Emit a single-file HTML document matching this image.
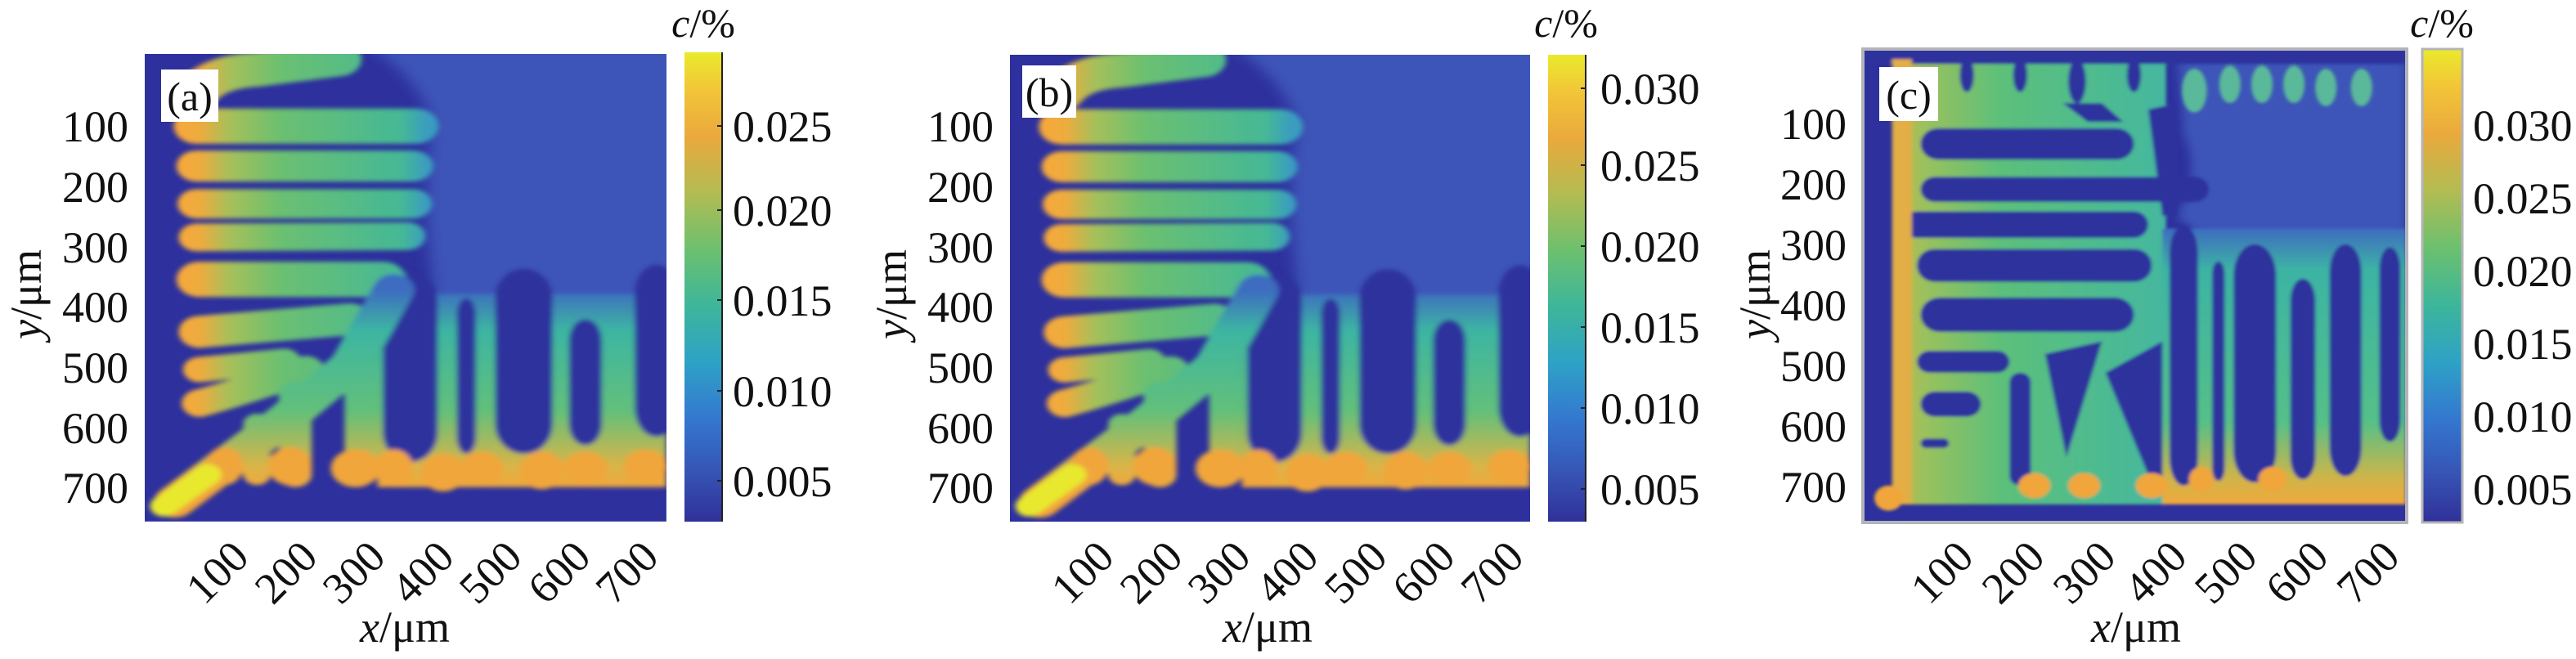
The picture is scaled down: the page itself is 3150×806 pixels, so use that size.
<!DOCTYPE html>
<html><head><meta charset="utf-8"><style>
html,body{margin:0;padding:0;background:#fff;}
svg{display:block;font-family:"Liberation Serif","Times New Roman",serif;}
text{font-family:"Liberation Serif","Times New Roman",serif;fill:#111;}
</style></head><body>
<svg width="3150" height="806" viewBox="0 0 3150 806" xmlns="http://www.w3.org/2000/svg">
<defs>
<linearGradient id="cb" x1="0" y1="0" x2="0" y2="1">
<stop offset="0" stop-color="#eaea2c"/><stop offset="0.08" stop-color="#f2c538"/><stop offset="0.18" stop-color="#eaa93d"/>
<stop offset="0.3" stop-color="#b2bc52"/><stop offset="0.42" stop-color="#6cc06f"/><stop offset="0.54" stop-color="#3db69a"/>
<stop offset="0.66" stop-color="#2ea2c6"/><stop offset="0.78" stop-color="#3478d0"/><stop offset="0.9" stop-color="#3653b4"/>
<stop offset="1" stop-color="#303098"/></linearGradient>
<linearGradient id="gh" gradientUnits="userSpaceOnUse" x1="330" y1="0" x2="780" y2="0">
<stop offset="0" stop-color="#f6a93a"/><stop offset="0.08" stop-color="#eeab3e"/><stop offset="0.2" stop-color="#a6c05a"/>
<stop offset="0.4" stop-color="#6cc070"/><stop offset="0.9" stop-color="#45b896"/><stop offset="1" stop-color="#3a9cc0"/></linearGradient>
<linearGradient id="gv" gradientUnits="userSpaceOnUse" x1="0" y1="690" x2="0" y2="1170">
<stop offset="0" stop-color="#3c6cc0"/><stop offset="0.2" stop-color="#3cb5a2"/><stop offset="0.6" stop-color="#62c07a"/>
<stop offset="0.88" stop-color="#dcb447"/><stop offset="1" stop-color="#f3a43a"/></linearGradient>
<linearGradient id="ch" gradientUnits="userSpaceOnUse" x1="90" y1="0" x2="880" y2="0">
<stop offset="0" stop-color="#d8b048"/><stop offset="0.12" stop-color="#9cc15c"/><stop offset="0.4" stop-color="#5cc07a"/><stop offset="1" stop-color="#44b7a0"/></linearGradient>
<linearGradient id="cv" gradientUnits="userSpaceOnUse" x1="0" y1="600" x2="0" y2="1480">
<stop offset="0" stop-color="#3c6cc0"/><stop offset="0.15" stop-color="#3cb4a4"/><stop offset="0.7" stop-color="#55c088"/>
<stop offset="0.9" stop-color="#cdb54a"/><stop offset="1" stop-color="#f0a83c"/></linearGradient>
<filter id="bl" x="-5%" y="-5%" width="110%" height="110%"><feGaussianBlur stdDeviation="5"/></filter>
<filter id="bb" x="-10%" y="-10%" width="120%" height="120%"><feGaussianBlur stdDeviation="14"/></filter>
<clipPath id="ca"><rect x="265" y="128" width="953" height="1114"/></clipPath>
<clipPath id="cc"><rect x="20" y="30" width="1525" height="1505"/></clipPath>

<g id="pa" clip-path="url(#ca)">
<rect x="265" y="128" width="953" height="1114" fill="#2d309d"/>
<path d="M660,100 H1260 V820 H790 V660 Q770,450 790,300 Q770,180 660,100Z" fill="#3c55b8" filter="url(#bb)"/>
<g filter="url(#bl)">
<rect x="690" y="700" width="528" height="460" fill="url(#gv)"/>
<g fill="#2d309d">
<rect x="700" y="650" width="100" height="450" rx="50" ry="70"/>
<rect x="835" y="710" width="35" height="370" rx="17" ry="40"/>
<rect x="905" y="640" width="105" height="440" rx="52" ry="70"/>
<rect x="1040" y="760" width="60" height="300" rx="30" ry="50"/>
<rect x="1160" y="630" width="80" height="410" rx="40" ry="70"/>
</g>
<g fill="none" stroke="url(#gh)" stroke-linecap="round">
<path d="M360,220 Q390,170 470,165 L620,140" stroke-width="82"/>
<path d="M360,300 L760,300" stroke-width="84"/>
<path d="M360,395 L755,395" stroke-width="74"/>
<path d="M360,485 L755,485" stroke-width="70"/>
<path d="M360,565 L745,562" stroke-width="66"/>
<path d="M365,665 L700,665" stroke-width="84"/>
<path d="M365,790 Q500,775 640,760" stroke-width="76"/>
<path d="M365,880 L520,860" stroke-width="60"/>
<path d="M365,960 Q450,930 560,880" stroke-width="65"/>
</g>
<g fill="none" stroke="url(#gv)" stroke-linecap="round">
<path d="M320,1195 L520,1000 L640,870 L720,690" stroke-width="75"/>
<path d="M470,1010 L470,1130" stroke-width="50"/>
<path d="M540,940 L540,1130" stroke-width="60"/>
<path d="M660,860 L660,1120" stroke-width="60"/>
</g>
<g fill="#f0a63a">
<ellipse cx="410" cy="1110" rx="35" ry="45"/><ellipse cx="530" cy="1110" rx="40" ry="45"/>
<ellipse cx="650" cy="1115" rx="45" ry="45"/><ellipse cx="720" cy="1115" rx="35" ry="45"/>
<ellipse cx="810" cy="1125" rx="40" ry="45"/><ellipse cx="880" cy="1115" rx="40" ry="40"/>
<ellipse cx="990" cy="1120" rx="40" ry="45"/><ellipse cx="1070" cy="1115" rx="40" ry="40"/>
<ellipse cx="1180" cy="1110" rx="40" ry="40"/>
</g>
<path d="M300,1205 L380,1130" stroke="#e8e82e" stroke-width="50" stroke-linecap="round"/>
</g>
</g>

<g id="pc" clip-path="url(#cc)">
<rect x="20" y="30" width="1525" height="1505" fill="#2d309d"/>
<path d="M900,30 H1545 V700 Q1450,620 1400,690 Q1300,610 1250,760 Q1150,640 1050,710 Q960,620 900,560 Q970,420 920,300Z" fill="#3c55b8" filter="url(#bb)"/>
<g filter="url(#bl)">
<rect x="100" y="70" width="770" height="1410" fill="url(#ch)"/>
<rect x="860" y="600" width="685" height="880" fill="url(#cv)"/>
<g fill="#2d309d">
<rect x="180" y="280" width="600" height="100" rx="50"/>
<rect x="180" y="435" width="810" height="80" rx="40"/>
<rect x="130" y="545" width="690" height="85" rx="42"/>
<rect x="170" y="665" width="660" height="105" rx="50"/>
<rect x="180" y="820" width="600" height="110" rx="55"/>
<rect x="170" y="990" width="260" height="70" rx="35"/>
<rect x="180" y="1120" width="170" height="80" rx="40"/>
<rect x="180" y="1270" width="80" height="30" rx="15"/>
<rect x="430" y="1060" width="60" height="360" rx="30"/>
<polygon points="530,1000 690,960 590,1330"/>
<polygon points="700,1060 860,960 860,1440 840,1440"/>
<rect x="880" y="590" width="80" height="830" rx="40" ry="90"/>
<rect x="1000" y="705" width="35" height="700" rx="17" ry="40"/>
<rect x="1060" y="650" width="120" height="760" rx="60" ry="100"/>
<rect x="1220" y="760" width="70" height="640" rx="35" ry="70"/>
<rect x="1330" y="650" width="90" height="740" rx="45" ry="90"/>
<rect x="1470" y="660" width="60" height="620" rx="30" ry="70"/>
<rect x="20" y="30" width="1525" height="45"/>
<ellipse cx="310" cy="110" rx="20" ry="55"/><ellipse cx="460" cy="110" rx="20" ry="55"/>
<ellipse cx="620" cy="130" rx="25" ry="70"/><ellipse cx="780" cy="110" rx="20" ry="55"/>
<polygon points="580,200 690,200 750,260 650,260"/>
<polygon points="820,220 900,200 900,560 860,560"/>
</g>
<g fill="#5ab99a">
<ellipse cx="950" cy="160" rx="35" ry="70"/><ellipse cx="1050" cy="140" rx="30" ry="60"/>
<ellipse cx="1140" cy="140" rx="30" ry="60"/><ellipse cx="1230" cy="140" rx="30" ry="60"/>
<ellipse cx="1320" cy="150" rx="30" ry="60"/><ellipse cx="1420" cy="150" rx="30" ry="60"/>
</g>
<rect x="100" y="60" width="55" height="1420" fill="#e2ae45"/>
<g fill="#f0a63a">
<ellipse cx="90" cy="1460" rx="40" ry="40"/><ellipse cx="500" cy="1420" rx="45" ry="40"/>
<ellipse cx="640" cy="1420" rx="45" ry="40"/><ellipse cx="830" cy="1420" rx="45" ry="40"/>
<ellipse cx="970" cy="1400" rx="35" ry="40"/><ellipse cx="1170" cy="1400" rx="40" ry="40"/>
</g>
</g>
</g>
</defs>

<!-- Panel a -->
<use href="#pa" transform="translate(177,66) scale(0.6694,0.5134) translate(-265,-128)"/>
<rect x="837" y="64" width="46" height="574" fill="url(#cb)"/>
<line x1="883" y1="64" x2="883" y2="638" stroke="#222" stroke-width="2"/>
<g stroke="#222" stroke-width="2"><line x1="877" y1="154" x2="883" y2="154"/><line x1="877" y1="257" x2="883" y2="257"/><line x1="877" y1="367" x2="883" y2="367"/><line x1="877" y1="478" x2="883" y2="478"/><line x1="877" y1="588" x2="883" y2="588"/></g>
<rect x="197" y="85" width="70" height="64" fill="#fff"/>
<text x="232" y="135" font-size="50" text-anchor="middle">(a)</text>
<g font-size="54" text-anchor="end">
<text x="157" y="173">100</text><text x="157" y="247">200</text><text x="157" y="321">300</text><text x="157" y="394">400</text><text x="157" y="468">500</text><text x="157" y="542">600</text><text x="157" y="615">700</text>
</g>
<g font-size="54">
<text x="896" y="173">0.025</text><text x="896" y="276">0.020</text><text x="896" y="386">0.015</text><text x="896" y="497">0.010</text><text x="896" y="607">0.005</text>
</g>
<g font-size="54" text-anchor="end">
<text transform="translate(307,684) rotate(-45)">100</text><text transform="translate(391,684) rotate(-45)">200</text><text transform="translate(474,684) rotate(-45)">300</text><text transform="translate(558,684) rotate(-45)">400</text><text transform="translate(641,684) rotate(-45)">500</text><text transform="translate(725,684) rotate(-45)">600</text><text transform="translate(808,684) rotate(-45)">700</text>
</g>
<text x="495" y="785" font-size="54" text-anchor="middle"><tspan font-style="italic">x</tspan>/μm</text>
<text transform="translate(50,360) rotate(-90)" font-size="54" text-anchor="middle"><tspan font-style="italic">y</tspan>/μm</text>
<text x="860" y="45" font-size="50" text-anchor="middle"><tspan font-style="italic">c</tspan>/%</text>

<!-- Panel b -->
<use href="#pa" transform="translate(1235,67) scale(0.6674,0.5126) translate(-265,-128)"/>
<rect x="1893" y="67" width="46" height="571" fill="url(#cb)"/>
<line x1="1939" y1="67" x2="1939" y2="638" stroke="#222" stroke-width="2"/>
<g stroke="#222" stroke-width="2"><line x1="1933" y1="108" x2="1939" y2="108"/><line x1="1933" y1="202" x2="1939" y2="202"/><line x1="1933" y1="301" x2="1939" y2="301"/><line x1="1933" y1="400" x2="1939" y2="400"/><line x1="1933" y1="499" x2="1939" y2="499"/><line x1="1933" y1="598" x2="1939" y2="598"/></g>
<rect x="1250" y="80" width="66" height="64" fill="#fff"/>
<text x="1283" y="130" font-size="50" text-anchor="middle">(b)</text>
<g font-size="54" text-anchor="end">
<text x="1215" y="173">100</text><text x="1215" y="247">200</text><text x="1215" y="321">300</text><text x="1215" y="394">400</text><text x="1215" y="468">500</text><text x="1215" y="542">600</text><text x="1215" y="615">700</text>
</g>
<g font-size="54">
<text x="1957" y="127">0.030</text><text x="1957" y="221">0.025</text><text x="1957" y="320">0.020</text><text x="1957" y="419">0.015</text><text x="1957" y="518">0.010</text><text x="1957" y="617">0.005</text>
</g>
<g font-size="54" text-anchor="end">
<text transform="translate(1365,684) rotate(-45)">100</text><text transform="translate(1449,684) rotate(-45)">200</text><text transform="translate(1532,684) rotate(-45)">300</text><text transform="translate(1615,684) rotate(-45)">400</text><text transform="translate(1699,684) rotate(-45)">500</text><text transform="translate(1782,684) rotate(-45)">600</text><text transform="translate(1866,684) rotate(-45)">700</text>
</g>
<text x="1550" y="785" font-size="54" text-anchor="middle"><tspan font-style="italic">x</tspan>/μm</text>
<text transform="translate(1108,360) rotate(-90)" font-size="54" text-anchor="middle"><tspan font-style="italic">y</tspan>/μm</text>
<text x="1915" y="45" font-size="50" text-anchor="middle"><tspan font-style="italic">c</tspan>/%</text>

<!-- Panel c -->
<use href="#pc" transform="translate(2279,61) scale(0.4348,0.3834) translate(-20,-30)"/>
<rect x="2278" y="60" width="665" height="579" fill="none" stroke="#b4b4b8" stroke-width="4"/>
<rect x="2962" y="60" width="49" height="579" fill="url(#cb)" stroke="#b4b4b8" stroke-width="3"/>
<rect x="2298" y="82" width="72" height="66" fill="#fff"/>
<text x="2334" y="133" font-size="50" text-anchor="middle">(c)</text>
<g font-size="54" text-anchor="end">
<text x="2258" y="170">100</text><text x="2258" y="244">200</text><text x="2258" y="318">300</text><text x="2258" y="392">400</text><text x="2258" y="466">500</text><text x="2258" y="540">600</text><text x="2258" y="614">700</text>
</g>
<g font-size="54">
<text x="3024" y="172">0.030</text><text x="3024" y="261">0.025</text><text x="3024" y="350">0.020</text><text x="3024" y="439">0.015</text><text x="3024" y="528">0.010</text><text x="3024" y="617">0.005</text>
</g>
<g font-size="54" text-anchor="end">
<text transform="translate(2416,684) rotate(-45)">100</text><text transform="translate(2503,684) rotate(-45)">200</text><text transform="translate(2590,684) rotate(-45)">300</text><text transform="translate(2677,684) rotate(-45)">400</text><text transform="translate(2763,684) rotate(-45)">500</text><text transform="translate(2850,684) rotate(-45)">600</text><text transform="translate(2937,684) rotate(-45)">700</text>
</g>
<text x="2612" y="785" font-size="54" text-anchor="middle"><tspan font-style="italic">x</tspan>/μm</text>
<text transform="translate(2164,360) rotate(-90)" font-size="54" text-anchor="middle"><tspan font-style="italic">y</tspan>/μm</text>
<text x="2986" y="45" font-size="50" text-anchor="middle"><tspan font-style="italic">c</tspan>/%</text>
</svg>
</body></html>
